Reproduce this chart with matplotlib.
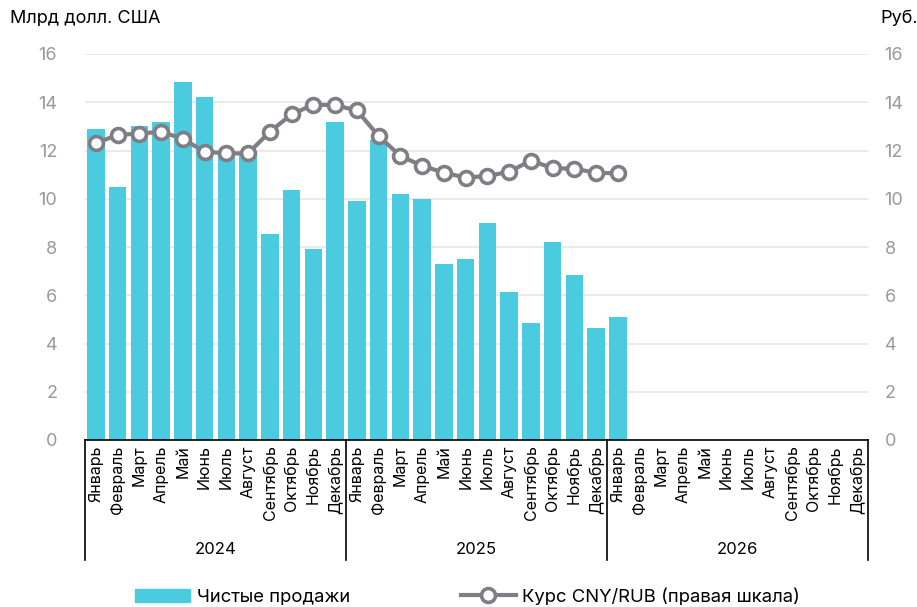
import matplotlib
matplotlib.use("Agg")
import matplotlib.pyplot as plt
import matplotlib.transforms as mtransforms
from matplotlib.lines import Line2D
from matplotlib.patches import Patch
import numpy as np

plt.rcParams['font.family'] = ['Inter', 'DejaVu Sans']

months = ["Январь", "Февраль", "Март", "Апрель", "Май", "Июнь", "Июль",
          "Август", "Сентябрь", "Октябрь", "Ноябрь", "Декабрь"]
years = ["2024", "2025", "2026"]

net_sales = [12.9, 10.5, 13.0, 13.2, 14.85, 14.2, 11.9, 11.9, 8.55, 10.35, 7.9, 13.2,
             9.9, 12.45, 10.2, 10.0, 7.3, 7.5, 9.0, 6.15, 4.85, 8.2, 6.85, 4.65,
             5.1]
cny_rub = [12.3, 12.65, 12.7, 12.78, 12.48, 11.95, 11.88, 11.88, 12.78, 13.5, 13.9, 13.88,
           13.66, 12.6, 11.77, 11.37, 11.08, 10.88, 10.94, 11.12, 11.58, 11.27, 11.24, 11.08,
           11.05]

yticks = [0, 2, 4, 6, 8, 10, 12, 14, 16]

bar_color = "#4ACBDF"
line_color = "#7E7E84"
tick_gray = "#9A9A9A"

fig = plt.figure(figsize=(9.17, 6.07), dpi=100)
ax = fig.add_axes([85/917, 1-440/607, 783/917, (440-54)/607])
ax2 = ax.twinx()

n_cat = len(months) * len(years)
x_all = np.arange(n_cat)
xb = np.arange(len(net_sales))
ax.bar(xb, net_sales, width=0.8, color=bar_color, zorder=2)
ax2.plot(np.arange(len(cny_rub)), cny_rub, color=line_color, lw=3,
         marker="o", ms=10, mfc="white", mec=line_color, mew=2.6, zorder=3)

for a in (ax, ax2):
    a.set_ylim(0, 16)
    a.set_yticks(yticks)
    a.set_xlim(-0.5, n_cat - 0.5)
    for s in ("top", "left", "right"):
        a.spines[s].set_visible(False)
    a.tick_params(axis="y", length=0, labelsize=13, labelcolor=tick_gray)
ax2.spines["bottom"].set_visible(False)
ax.spines["bottom"].set_color("black")
ax.spines["bottom"].set_linewidth(1.2)
ax.tick_params(axis="y", pad=20)
ax2.tick_params(axis="y", pad=12)

ax.yaxis.grid(True, color="#E6E6E6", lw=1.2, zorder=0)
ax.set_axisbelow(True)
ax2.patch.set_visible(False)

ax.set_xticks(x_all)
ax.set_xticklabels(months * len(years), rotation=90, fontsize=11.5, va="top")
ax.tick_params(axis="x", length=0, pad=4)

trans = mtransforms.blended_transform_factory(ax.transData, ax.transAxes)
ax_h_px = 440 - 54
sep_bottom = -(560 - 440) / ax_h_px
for b in [-0.5, 11.5, 23.5, 35.5]:
    ax.add_line(Line2D([b, b], [0, sep_bottom], transform=trans, color="black",
                       lw=1.2, clip_on=False))
for i, y in enumerate(years):
    ax.text(i * 12 + 5.5, -(549 - 440) / ax_h_px, y, transform=trans,
            ha="center", va="center", fontsize=12)

fig.text(10/917, 1 - 19/607, "Млрд долл. США", fontsize=13, va="center", ha="left")
fig.text(880/917, 1 - 19/607, "Руб.", fontsize=13, va="center", ha="left")

handles = [Patch(color=bar_color, label="Чистые продажи"),
           Line2D([0], [0], color=line_color, lw=3, marker="o", ms=10, mfc="white",
                  mec=line_color, mew=2.6, label="Курс CNY/RUB (правая шкала)")]
fig.legend(handles=handles, loc="center", bbox_to_anchor=(0.5 + 9/917, 1 - 597/607), ncol=2,
           frameon=False, fontsize=13.3, columnspacing=6.0, handlelength=3,
           handletextpad=0.35)

fig.savefig("out.png", dpi=100)
